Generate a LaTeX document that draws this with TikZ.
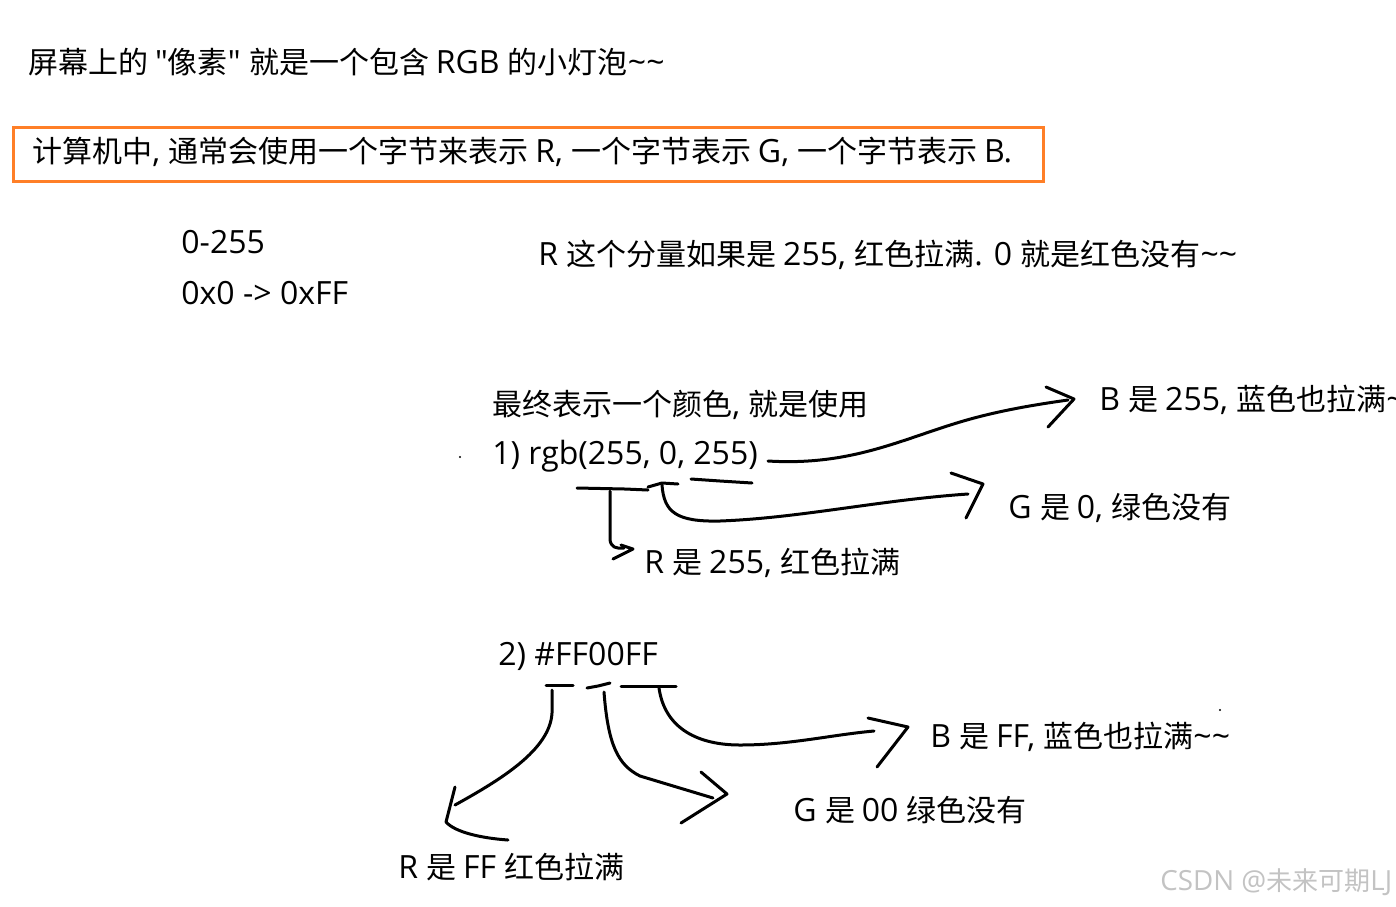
\documentclass[tikz,border=0pt]{standalone}
\usepackage{fontspec}
\newfontfamily\cjkf{Noto Sans CJK SC}
\newfontfamily\latf[Scale=1.067]{Open Sans}
\XeTeXinterchartokenstate=1
\newXeTeXintercharclass\cjkcls
\newcount\cjkcnt
\cjkcnt="4E00
\loop\XeTeXcharclass\cjkcnt=\cjkcls\advance\cjkcnt by 1\ifnum\cjkcnt<"A000\repeat
\cjkcnt="3000
\loop\XeTeXcharclass\cjkcnt=\cjkcls\advance\cjkcnt by 1\ifnum\cjkcnt<"3040\repeat
\XeTeXinterchartoks 0 \cjkcls = {\cjkf}
\XeTeXinterchartoks 4095 \cjkcls = {\cjkf}
\XeTeXinterchartoks \cjkcls 0 = {\latf}
\XeTeXinterchartoks 4095 0 = {\latf}
\newcommand\tld{\char"7E\relax}
\definecolor{boxorange}{RGB}{255,127,39}
\definecolor{wm}{RGB}{195,195,195}
\begin{document}
\begin{tikzpicture}[x=0.5pt,y=-0.5pt,
  txt/.style={anchor=west,inner sep=0pt,font=\latf\fontsize{15}{18}\selectfont},
  pen/.style={draw=black,line width=1.5pt,line cap=round,line join=round},
  wmk/.style={anchor=west,inner sep=0pt,text=wm,font=\latf\fontsize{13}{16}\selectfont}]
\useasboundingbox (0,0) rectangle (1396,906);
\clip (0,0) rectangle (1396,906);
\fill[white] (0,0) rectangle (1396,906);

% texts
\node[txt] (t1) at (28,62) {屏幕上的 "像素" 就是一个包含 RGB 的小灯泡\tld\tld};
\node[txt] (t2) at (32,152) {计算机中, 通常会使用一个字节来表示 R, 一个字节表示 G, 一个字节表示 B.};
\draw[boxorange,line width=1.5pt] (13,127) rectangle (1043,181);
\node[txt] (t3) at (181,242) {0-255};
\node[txt] (t4) at (181,293) {0x0 -> 0xFF};
\node[txt] (t5) at (538,255) {R 这个分量如果是 255, 红色拉满. 0 就是红色没有\tld\tld};
\node[txt] (t6) at (492,405) {最终表示一个颜色, 就是使用};
\node[txt] (t7) at (492,456) {1) rgb(255, 0, 255)};
\node[txt] (b1) at (1099,400) {B 是 255, 蓝色也拉满\tld\tld};
\node[txt] (g1) at (1008,508) {G 是 0, 绿色没有};
\node[txt] (r1) at (644,563) {R 是 255, 红色拉满};
\node[txt] (t8) at (498,656) {2) \#FF00FF};
\node[txt] (b2) at (930,737) {B 是 FF, 蓝色也拉满\tld\tld};
\node[txt] (g2) at (793,810) {G 是 00 绿色没有};
\node[txt] (r2) at (398,867) {R 是 FF 红色拉满};
\node[wmk] (wm) at (1160,882) {CSDN @未来可期LJ};

% dots
\fill (460,457) circle (1.2);
\fill (1220,710) circle (1.2);

% coordinates
\coordinate (r1s) at (610,491);
\coordinate (g1s) at (662,485);
\coordinate (b1s) at (768,461);
\coordinate (r2s) at (552,690);
\coordinate (g2s) at (604,692);
\coordinate (b2s) at (659,688);

% underlines 1)
\draw[pen] (577,488) -- (625,489) -- (648,490);
\draw[pen] (648,487) -- (662,483) -- (678,484);
\draw[pen] (691,479) -- (720,481) -- (752,483);
% arrows 1)
\draw[pen] (r1s) -- (610,540) .. controls (611,547) and (616,549) .. (624,548);
\draw[pen] (621,545) -- (633,549) -- (613,559);
\draw[pen] (g1s) .. controls (664,512) and (676,522) .. (720,521)
  .. controls (800,518) and (880,500) .. (968,494);
\draw[pen] (951,473) -- (983,484) -- (966,518);
\draw[pen] (b1s) .. controls (850,466) and (900,440) .. (960,422)
  .. controls (1000,410) and (1040,404) .. (1068,400);
\draw[pen] (1046,387) -- (1074,399) -- (1048,427);

% underlines 2)
\draw[pen] (546,685) -- (573,685);
\draw[pen] (587,688) -- (598,686) -- (610,683);
\draw[pen] (621,686) -- (676,686);
% arrows 2)
\draw[pen] (r2s) -- (552,713) .. controls (550,750) and (500,780) .. (455,805);
\draw[pen] (455,787) -- (446,822) .. controls (455,832) and (480,838) .. (508,840);
\draw[pen] (g2s) .. controls (608,745) and (618,765) .. (640,776) -- (713,798);
\draw[pen] (701,772) -- (727,794) -- (681,823);
\draw[pen] (b2s) .. controls (665,730) and (700,745) .. (740,745)
  .. controls (790,745) and (830,735) .. (874,731);
\draw[pen] (868,718) -- (908,727) -- (877,767);
\end{tikzpicture}
\end{document}
